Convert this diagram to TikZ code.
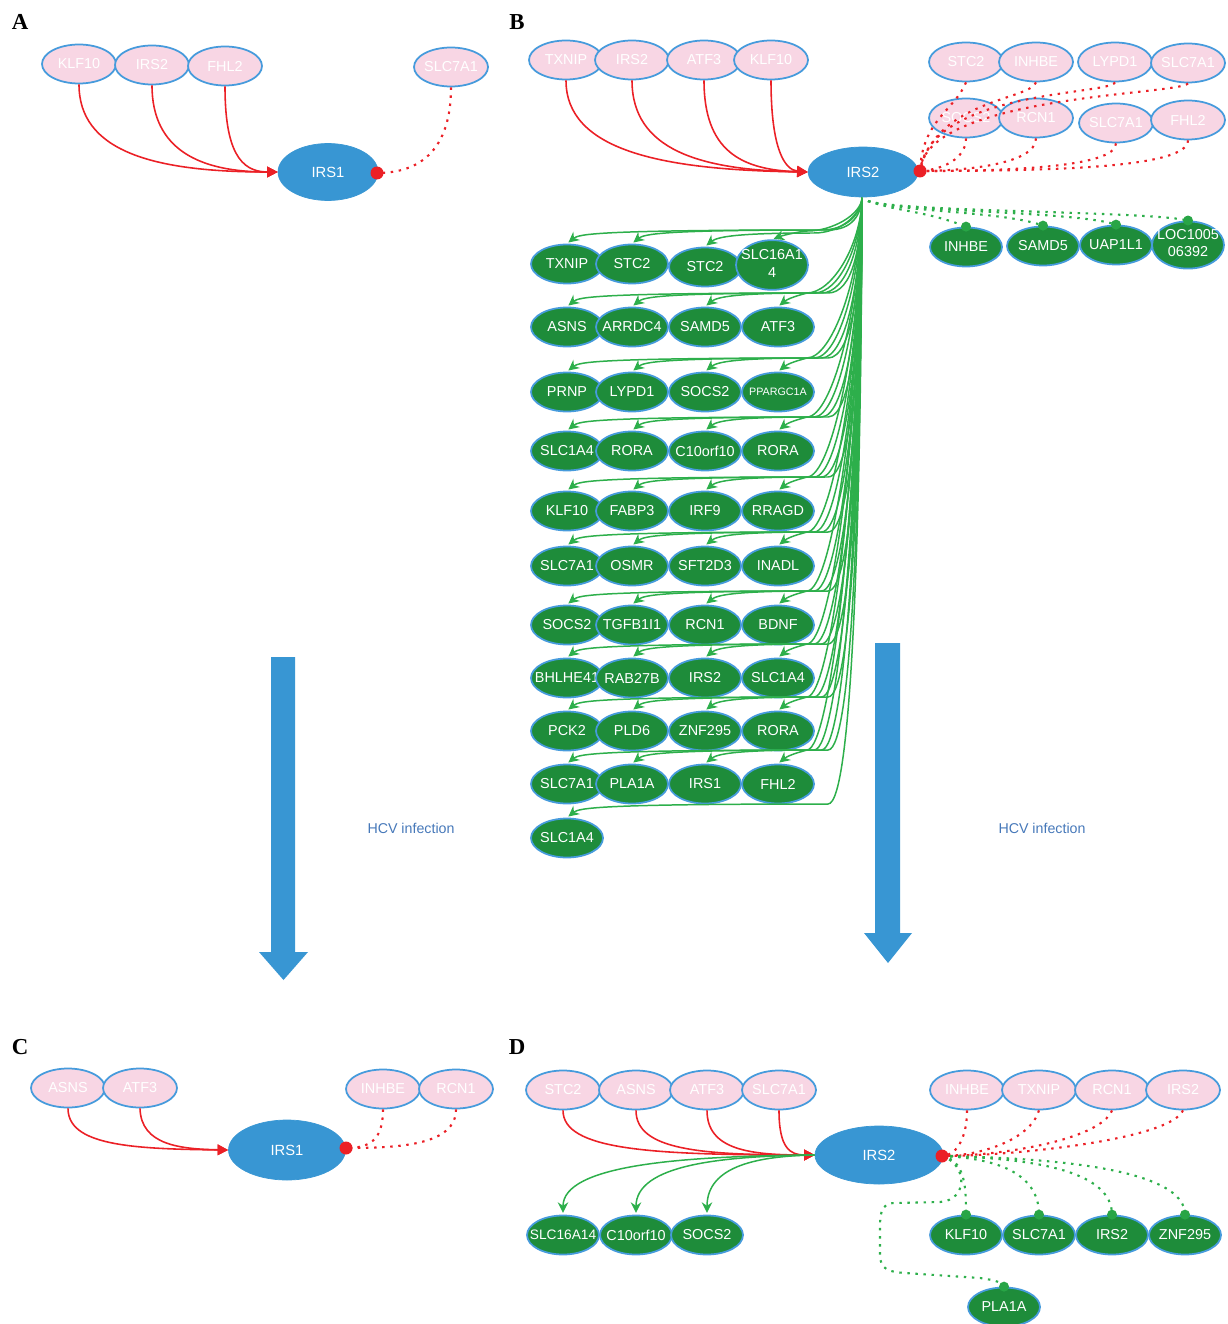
\documentclass[tikz,border=0pt]{standalone}
\usepackage{fontspec}
\setmainfont{Liberation Sans}
\newfontfamily\lserif{Liberation Serif}
\usetikzlibrary{shapes.geometric,arrows.meta}

\definecolor{pinkf}{RGB}{248,214,228}
\definecolor{nbord}{RGB}{70,155,220}
\definecolor{gfill}{RGB}{30,140,58}
\definecolor{hubb}{RGB}{56,150,211}
\definecolor{redc}{RGB}{235,32,38}
\definecolor{grl}{RGB}{45,175,75}
\definecolor{gdotc}{RGB}{40,165,70}
\definecolor{hcvc}{RGB}{70,120,185}

% zero-width label so the ellipse keeps its fixed size
\newcommand\nt[1]{\makebox[0pt]{#1}}
\newcommand\ntt[3]{\makebox[0pt]{\begin{tabular}{@{}c@{}}#1\\[#3]#2\end{tabular}}}

\tikzset{
  nfont/.style={font=\fontsize{8.2}{9.5}\selectfont},
  pk/.style={ellipse, draw=nbord, fill=pinkf, line width=1pt, minimum width=1.48cm,
    minimum height=0.78cm, inner sep=0pt, text=white, nfont},
  gn/.style={ellipse, draw=nbord, fill=gfill, line width=1pt, minimum width=1.44cm,
    minimum height=0.78cm, inner sep=0pt, text=white, nfont},
  hub/.style={ellipse, fill=hubb, draw=hubb, inner sep=0pt, text=white,
    font=\fontsize{8.4}{10}\selectfont},
  redarr/.style={draw=redc, line width=0.9pt, -{Triangle[length=6pt,width=6pt]}},
  reddot/.style={draw=redc, line width=1.2pt, dash pattern=on 1.4pt off 3.2pt},
  grarr/.style={draw=grl, line width=0.85pt, -{Stealth[length=6pt,width=6pt]}, shorten >=1pt},
  grdot/.style={draw=grl, line width=1.2pt, dash pattern=on 1.4pt off 3.2pt},
  rdot/.style={circle, fill=redc, inner sep=0pt, minimum size=0.26cm},
  gdot/.style={circle, fill=gdotc, inner sep=0pt, minimum size=0.2cm},
  panel/.style={font=\lserif\bfseries\fontsize{13}{13}\selectfont},
  hcv/.style={text=hcvc, font=\fontsize{8.1}{10}\selectfont},
}

\begin{document}
\begin{tikzpicture}[x=0.02cm, y=-0.02cm]
\useasboundingbox (0,0) rectangle (1227,1324);

% ---------------- panel A ----------------
\node[panel] (labA) at (20,22) {A};
\node[pk] (a1) at (79,64) {\nt{KLF10}};
\node[pk] (a2) at (152,65) {\nt{IRS2}};
\node[pk] (a3) at (225,66) {\nt{FHL2}};
\node[pk] (a4) at (451,67) {\nt{SLC7A1}};
\node[hub, minimum width=2cm, minimum height=1.14cm] (a0) at (328,172) {\nt{IRS1}};
\coordinate (dA) at (377,173);
\draw[redarr] (a1.south) .. controls (79,150) and (150,172) .. (a0.west);
\draw[redarr] (a2.south) .. controls (152,150) and (200,172) .. (a0.west);
\draw[redarr] (a3.south) .. controls (225,150) and (240,172) .. (a0.west);
\draw[reddot] (a4.south) .. controls (451,150) and (420,173) .. (dA);
\node[rdot] (dotA) at (dA) {};

% ---------------- panel B ----------------
\node[panel] (labB) at (517,22) {B};
\node[pk] (b1) at (566,60) {\nt{TXNIP}};
\node[pk] (b2) at (632,60) {\nt{IRS2}};
\node[pk] (b3) at (704,60) {\nt{ATF3}};
\node[pk] (b4) at (771,60) {\nt{KLF10}};
\node[pk] (p1) at (966,62) {\nt{STC2}};
\node[pk] (p2) at (1036,62) {\nt{INHBE}};
\node[pk] (p3) at (1115,62) {\nt{LYPD1}};
\node[pk] (p4) at (1188,63) {\nt{SLC7A1}};
\node[pk] (p5) at (966,118) {\nt{SOCS2}};
\node[pk] (p6) at (1036,118) {\nt{RCN1}};
\node[pk] (p7) at (1116,123) {\nt{SLC7A1}};
\node[pk] (p8) at (1188,120) {\nt{FHL2}};
\node[hub, minimum width=2.2cm, minimum height=1.0cm] (b0) at (863,172) {\nt{IRS2}};
\coordinate (dB) at (920,171);
\coordinate (sB) at (862,198);
\coordinate (sB2) at (868,201);

% target genes (solid green)
\foreach \nm/\x/\y/\t in {
  g11/567/264/TXNIP, g12/632/264/STC2, g13/705/267/STC2,
  g21/567/327/ASNS, g22/632/327/ARRDC4, g23/705/327/SAMD5, g24/778/327/ATF3,
  g31/567/392/PRNP, g32/632/392/LYPD1, g33/705/392/SOCS2,
  g41/567/451/SLC1A4, g42/632/451/RORA, g43/705/451/C10orf10, g44/778/451/RORA,
  g51/567/511/KLF10, g52/632/511/FABP3, g53/705/511/IRF9, g54/778/511/RRAGD,
  g61/567/566/SLC7A1, g62/632/566/OSMR, g63/705/566/SFT2D3, g64/778/566/INADL,
  g71/567/625/SOCS2, g72/632/625/TGFB1I1, g73/705/625/RCN1, g74/778/625/BDNF,
  g81/567/678/BHLHE41, g82/632/678/RAB27B, g83/705/678/IRS2, g84/778/678/SLC1A4,
  g91/567/731/PCK2, g92/632/731/PLD6, g93/705/731/ZNF295, g94/778/731/RORA,
  gA1/567/784/SLC7A1, gA2/632/784/PLA1A, gA3/705/784/IRS1, gA4/778/784/FHL2,
  gB1/567/838/SLC1A4}
  \node[gn] (\nm) at (\x,\y) {\nt{\t}};
\node[gn] (g14) at (772,265) {\ntt{SLC16A1}{4}{1pt}};
\node[gn] (g34) at (778,392) {\nt{\fontsize{6.1}{7}\selectfont PPARGC1A}};

\foreach \nm/\x/\y in {
  g11/567/264, g12/632/264, g13/705/267, g14/772/265,
  g21/567/327, g22/632/327, g23/705/327, g24/778/327,
  g31/567/392, g32/632/392, g33/705/392, g34/778/392,
  g41/567/451, g42/632/451, g43/705/451, g44/778/451,
  g51/567/511, g52/632/511, g53/705/511, g54/778/511,
  g61/567/566, g62/632/566, g63/705/566, g64/778/566,
  g71/567/625, g72/632/625, g73/705/625, g74/778/625,
  g81/567/678, g82/632/678, g83/705/678, g84/778/678,
  g91/567/731, g92/632/731, g93/705/731, g94/778/731,
  gA1/567/784, gA2/632/784, gA3/705/784, gA4/778/784,
  gB1/567/838}
{
  \pgfmathsetmacro\xc{853-(\x-567)*0.1}
  \draw[grarr] (sB) .. controls (861,{(\y+164)/2}) and (\xc,\y-34) .. (\xc-25,\y-34)
    .. controls (\x+30,\y-34) and (\x+12,\y-30) .. (\nm.north);
}

% weakened targets (dotted green)
\node[gn] (q1) at (966,247) {\nt{INHBE}};
\node[gn] (q2) at (1043,246) {\nt{SAMD5}};
\node[gn] (q3) at (1116,245) {\nt{UAP1L1}};
\node[gn] (q4) at (1188,245) {\ntt{LOC1005}{06392}{0pt}};
\foreach \nm/\x in {q1/966, q2/1043, q3/1116, q4/1188}{
  \draw[grdot] (sB2) .. controls (900,212) and (\x-40,211) .. (\nm.north);
  \node[gdot] at (\nm.north) {};
}

% regulators (red)
\draw[redarr] (b1.south) .. controls (566,150) and (660,170) .. (b0.west);
\draw[redarr] (b2.south) .. controls (632,150) and (700,170) .. (b0.west);
\draw[redarr] (b3.south) .. controls (704,150) and (740,170) .. (b0.west);
\draw[redarr] (b4.south) .. controls (771,150) and (785,170) .. (b0.west);
\draw[reddot] (p1.south) .. controls (955,110) and (922,120) .. (dB);
\draw[reddot] (p2.south) .. controls (1030,100) and (935,100) .. (dB);
\draw[reddot] (p3.south) .. controls (1110,95) and (930,90) .. (dB);
\draw[reddot] (p4.south) .. controls (1180,95) and (925,95) .. (dB);
\draw[reddot] (p5.south) .. controls (966,160) and (940,170) .. (dB);
\draw[reddot] (p6.south) .. controls (1036,165) and (960,171) .. (dB);
\draw[reddot] (p7.south) .. controls (1116,168) and (1000,171) .. (dB);
\draw[reddot] (p8.south) .. controls (1188,168) and (1050,171) .. (dB);
\node[rdot] (dotB) at (dB) {};

% ---------------- infection arrows ----------------
\fill[hubb] (271,657) -- (295,657) -- (295,952) -- (308,952) -- (283.5,980)
  -- (259,952) -- (271,952) -- cycle;
\fill[hubb] (875,643) -- (900,643) -- (900,933) -- (912,933) -- (888,963)
  -- (864,933) -- (875,933) -- cycle;
\node[hcv] (hcvL) at (411,828) {HCV infection};
\node[hcv] (hcvR) at (1042,828) {HCV infection};

% ---------------- panel C ----------------
\node[panel] (labC) at (20,1047) {C};
\node[pk] (c1) at (68,1088) {\nt{ASNS}};
\node[pk] (c2) at (140,1088) {\nt{ATF3}};
\node[pk] (c3) at (383,1089) {\nt{INHBE}};
\node[pk] (c4) at (456,1089) {\nt{RCN1}};
\node[hub, minimum width=2.34cm, minimum height=1.2cm] (c0) at (287,1150) {\nt{IRS1}};
\coordinate (dC) at (346,1148);
\draw[redarr] (c1.south) .. controls (68,1145) and (130,1149) .. (c0.west);
\draw[redarr] (c2.south) .. controls (141,1145) and (180,1149) .. (c0.west);
\draw[reddot] (c3.south) .. controls (383,1140) and (370,1148) .. (dC);
\draw[reddot] (c4.south) .. controls (456,1145) and (400,1148) .. (dC);
\node[rdot] (dotC) at (dC) {};

% ---------------- panel D ----------------
\node[panel] (labD) at (517,1047) {D};
\node[pk] (d1) at (563,1090) {\nt{STC2}};
\node[pk] (d2) at (636,1090) {\nt{ASNS}};
\node[pk] (d3) at (707,1090) {\nt{ATF3}};
\node[pk] (d4) at (779,1090) {\nt{SLC7A1}};
\node[pk] (f1) at (967,1090) {\nt{INHBE}};
\node[pk] (f2) at (1039,1090) {\nt{TXNIP}};
\node[pk] (f3) at (1112,1090) {\nt{RCN1}};
\node[pk] (f4) at (1183,1090) {\nt{IRS2}};
\node[hub, minimum width=2.56cm, minimum height=1.16cm] (d0) at (879,1155) {\nt{IRS2}};
\coordinate (dD) at (942,1156);

\node[gn] (e1) at (563,1235) {\nt{\fontsize{7.8}{9}\selectfont SLC16A14}};
\node[gn] (e2) at (636,1235) {\nt{C10orf10}};
\node[gn] (e3) at (707,1235) {\nt{SOCS2}};
\node[gn] (h1) at (966,1235) {\nt{KLF10}};
\node[gn] (h2) at (1039,1235) {\nt{SLC7A1}};
\node[gn] (h3) at (1112,1235) {\nt{IRS2}};
\node[gn] (h4) at (1185,1235) {\nt{ZNF295}};
\node[gn] (h5) at (1004,1307) {\nt{PLA1A}};

\draw[redarr] (d1.south) .. controls (563,1150) and (650,1155) .. (d0.west);
\draw[redarr] (d2.south) .. controls (636,1150) and (700,1155) .. (d0.west);
\draw[redarr] (d3.south) .. controls (707,1150) and (750,1155) .. (d0.west);
\draw[redarr] (d4.south) .. controls (779,1148) and (790,1155) .. (d0.west);
\draw[grarr] (d0.west) .. controls (680,1156) and (563,1165) .. (e1.north);
\draw[grarr] (d0.west) .. controls (720,1156) and (636,1165) .. (e2.north);
\draw[grarr] (d0.west) .. controls (760,1156) and (707,1165) .. (e3.north);

\draw[reddot] (f1.south) .. controls (967,1140) and (955,1156) .. (dD);
\draw[reddot] (f2.south) .. controls (1030,1140) and (980,1156) .. (dD);
\draw[reddot] (f3.south) .. controls (1100,1140) and (1000,1156) .. (dD);
\draw[reddot] (f4.south) .. controls (1170,1140) and (1010,1156) .. (dD);

\draw[grdot] (dD) .. controls (966,1160) and (966,1190) .. (h1.north);
\draw[grdot] (dD) .. controls (990,1158) and (1039,1170) .. (h2.north);
\draw[grdot] (dD) .. controls (1030,1158) and (1112,1170) .. (h3.north);
\draw[grdot] (dD) .. controls (1060,1158) and (1185,1170) .. (h4.north);
\draw[grdot] (dD) .. controls (968,1165) and (968,1200) .. (940,1202) -- (895,1203)
  .. controls (880,1203) and (880,1215) .. (880,1230) -- (880,1255)
  .. controls (880,1270) and (890,1272) .. (905,1273) -- (980,1278)
  .. controls (995,1280) and (1004,1283) .. (h5.north);
\foreach \nm in {h1,h2,h3,h4,h5}
  \node[gdot] at (\nm.north) {};
\node[rdot] (dotD) at (dD) {};
\end{tikzpicture}
\end{document}
